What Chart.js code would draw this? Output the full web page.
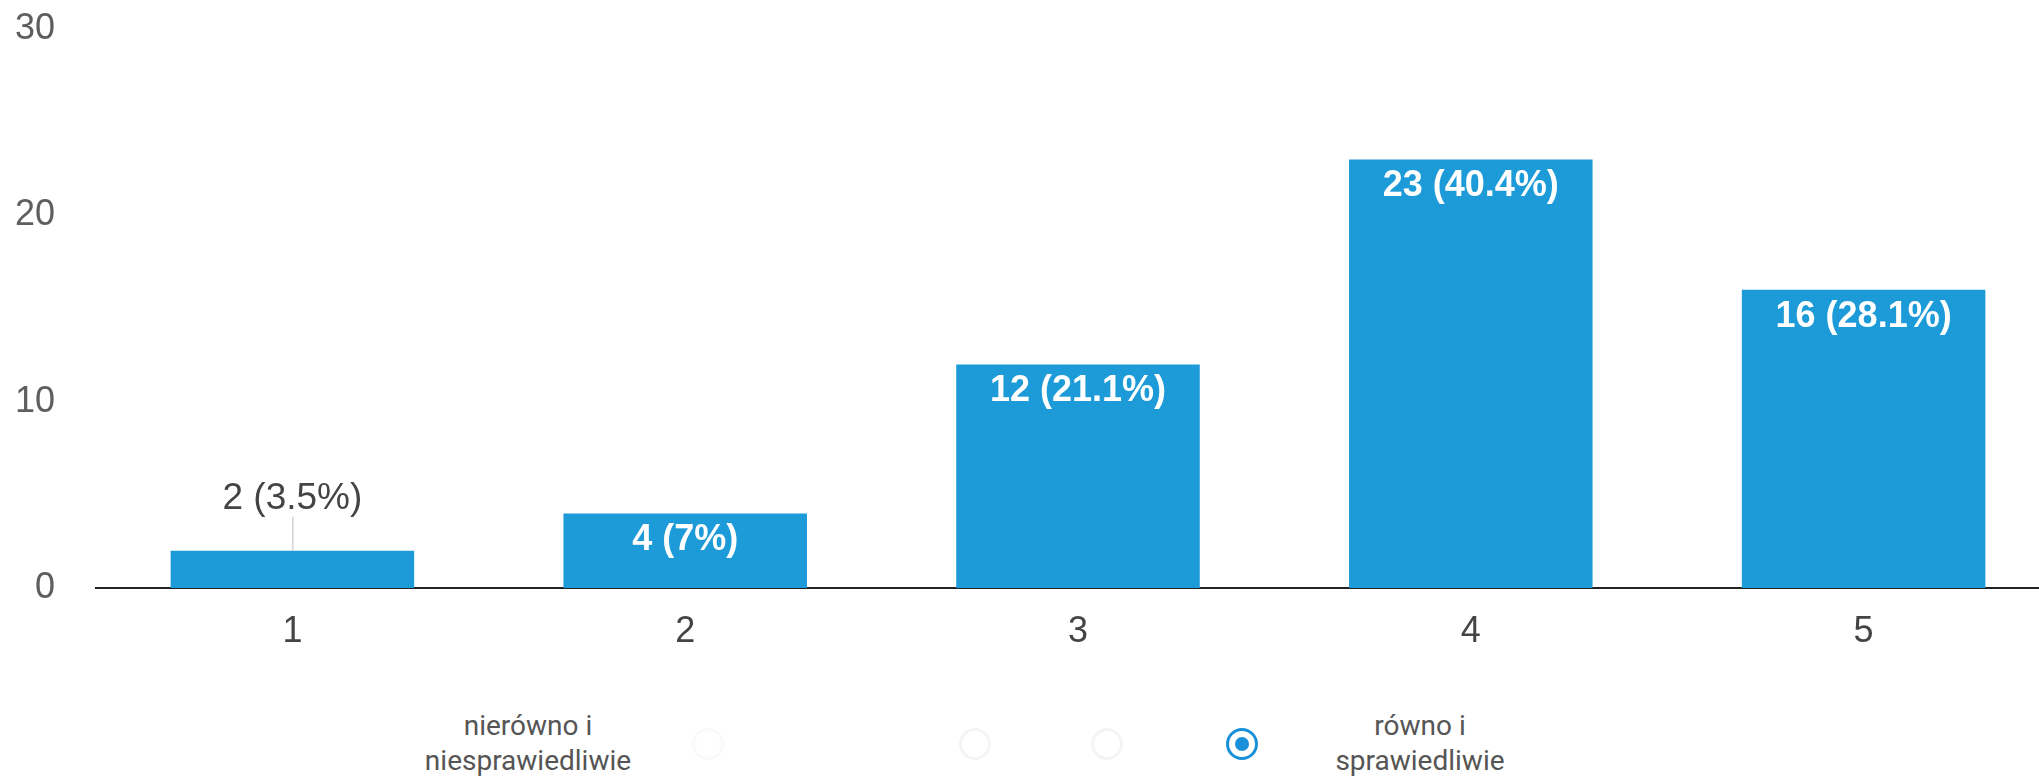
<!DOCTYPE html>
<html>
<head>
<meta charset="utf-8">
<script src="https://cdn.jsdelivr.net/npm/chart.js@4.4.1/dist/chart.umd.min.js"></script>
<style>
  html, body { margin: 0; padding: 0; background: #fff; overflow: hidden; width: 2039px; height: 781px; }
  #wrap { position: absolute; left: 0; top: 0; width: 2066px; height: 680px; }
  .lbl { position: absolute; font-family: Roboto, "Liberation Sans", Arial, sans-serif; font-size: 28px; color: #555; text-align: center; line-height: 35px; transform: translateX(-50%); white-space: nowrap; }
  .radio { position: absolute; width: 26px; height: 26px; border-radius: 50%; border: 3px solid #f4f4f4; transform: translate(-50%, -50%); }
  .radio.sel { border-color: #1a90d8; }
  .radio.sel::after { content: ""; position: absolute; left: 50%; top: 50%; width: 14px; height: 14px; border-radius: 50%; background: #1a90d8; transform: translate(-50%, -50%); }
</style>
</head>
<body>
<div id="wrap"><canvas id="c"></canvas></div>
<div class="lbl" style="left:528px; top:708px;">nierówno i<br>niesprawiedliwie</div>
<div class="lbl" style="left:1420px; top:708px;">równo i<br>sprawiedliwie</div>
<div class="radio" style="left:708px; top:744px; border-color:#fafafa;"></div>
<div class="radio" style="left:975px; top:744px;"></div>
<div class="radio" style="left:1107px; top:744px;"></div>
<div class="radio sel" style="left:1242px; top:744px;"></div>
<script>
const categories = ["1", "2", "3", "4", "5"];
const counts = [2, 4, 12, 23, 16];
const percents = ["3.5", "7", "21.1", "40.4", "28.1"];
const yTicks = [0, 10, 20, 30];

const labelPlugin = {
  id: 'barLabels',
  afterDatasetsDraw(chart) {
    const ctx = chart.ctx;
    const meta = chart.getDatasetMeta(0);
    meta.data.forEach((el, i) => {
      const text = counts[i] + " (" + percents[i] + "%)";
      const h = el.base - el.y;
      ctx.save();
      ctx.textAlign = 'center';
      ctx.textBaseline = 'middle';
      if (h > 60) {
        ctx.fillStyle = '#ffffff';
        ctx.font = 'bold 36px "Liberation Sans", Arial, sans-serif';
        ctx.fillText(text, el.x, el.y + 27);
      } else {
        ctx.fillStyle = '#444444';
        ctx.font = '37px "Liberation Sans", Arial, sans-serif';
        ctx.fillText(text, el.x, el.y - 52);
        ctx.strokeStyle = '#bdbdbd';
        ctx.lineWidth = 1;
        ctx.beginPath();
        ctx.moveTo(el.x + 0.5, el.y - 34);
        ctx.lineTo(el.x + 0.5, el.y);
        ctx.stroke();
      }
      ctx.restore();
    });
  }
};

new Chart(document.getElementById('c'), {
  type: 'bar',
  data: {
    labels: categories,
    datasets: [{
      data: counts,
      backgroundColor: '#1d9bd8',
      borderWidth: 0,
      barPercentage: 0.62,
      categoryPercentage: 1.0
    }]
  },
  options: {
    responsive: true,
    maintainAspectRatio: false,
    animation: false,
    layout: { padding: { top: 29, right: 6, bottom: 0, left: 0 } },
    plugins: { legend: { display: false }, tooltip: { enabled: false } },
    scales: {
      x: {
        grid: { display: false, drawTicks: false },
        border: { display: true, color: '#222', width: 2 },
        ticks: { color: '#444', padding: 22, font: { family: '"Liberation Sans", Arial, sans-serif', size: 36 } },
        afterFit(scale) { scale.height = 92; }
      },
      y: {
        min: 0,
        max: 30,
        afterBuildTicks(scale) { scale.ticks = yTicks.map(v => ({ value: v })); },
        grid: { display: false, drawTicks: false },
        border: { display: false },
        ticks: { color: '#5e5e5e', padding: 41, font: { family: '"Liberation Sans", Arial, sans-serif', size: 36 } },
        afterFit(scale) { scale.width = 96; scale.paddingTop = 20; scale.paddingBottom = 20; }
      }
    }
  },
  plugins: [labelPlugin]
});
</script>
</body>
</html>
